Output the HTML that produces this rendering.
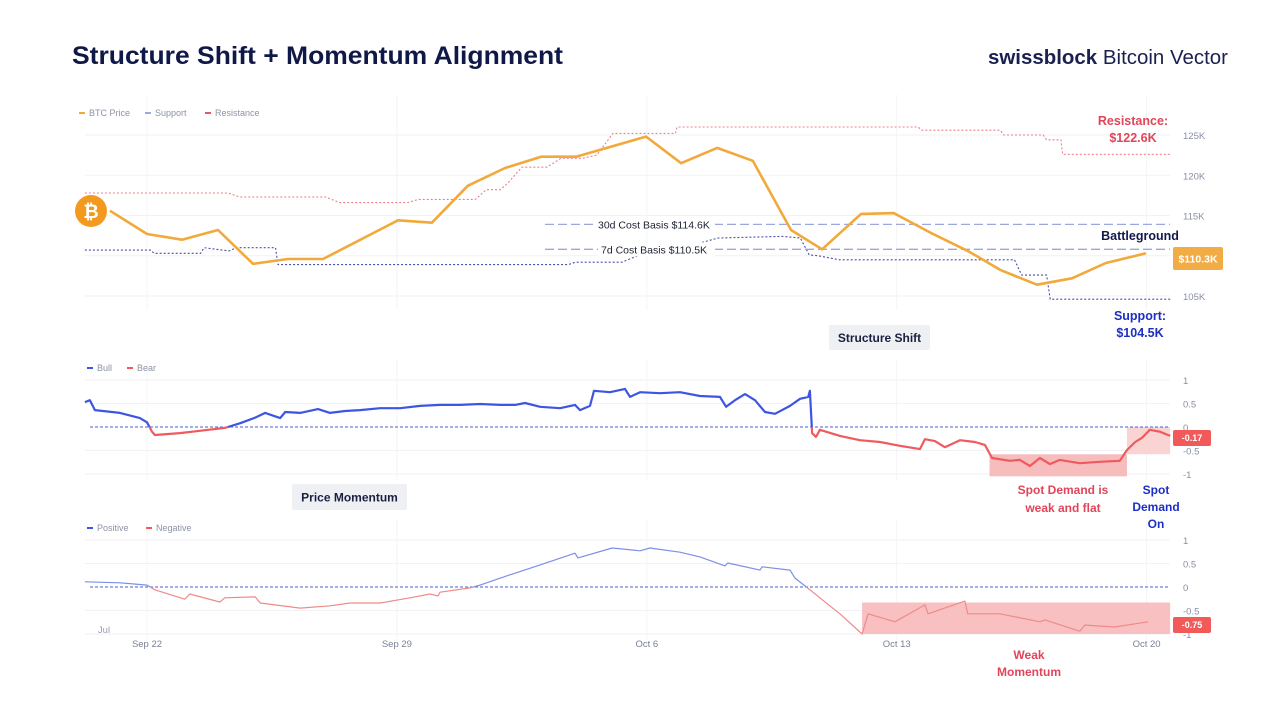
<!DOCTYPE html>
<html><head><meta charset="utf-8">
<style>
body{margin:0;background:#fff;width:1280px;height:720px;overflow:hidden;font-family:"Liberation Sans",sans-serif;}
svg{display:block}
</style></head>
<body>
<svg id="c" width="1280" height="720" viewBox="0 0 1280 720">
<text x="72" y="64" font-size="25" font-weight="bold" fill="#101848" textLength="491" lengthAdjust="spacingAndGlyphs">Structure Shift + Momentum Alignment</text>
<text x="988" y="64" font-size="20" fill="#1a2050" textLength="240" lengthAdjust="spacingAndGlyphs"><tspan font-weight="bold">swissblock</tspan> Bitcoin Vector</text>
<g id="g"></g>
</svg>
<script>
// ---- data ----
const priceDays=[-1.04,0,0.98,1.99,2.97,3.95,4.93,7.03,7.98,8.99,10.03,11.04,12.02,13.98,14.96,15.97,16.97,18.04,18.91,20.0,20.92,21.93,23.03,23.92,24.93,25.91,26.86,27.98];
const priceVals=[115.6,112.7,112.0,113.2,109.0,109.6,109.6,114.4,114.1,118.7,120.9,122.3,122.3,124.8,121.5,123.4,121.8,113.2,110.8,115.2,115.3,112.9,110.5,108.2,106.4,107.2,109.1,110.3];
const resDays=[-1.74,2.27,2.6,5.0,5.4,7.3,7.6,9.2,9.5,9.9,10.1,10.5,11.2,11.6,12.2,12.6,13.05,14.8,14.85,21.6,21.7,23.9,24.0,25.1,25.2,25.6,25.65,28.66];
const resVals=[117.8,117.8,117.3,117.3,116.6,116.6,117.0,117.0,118.2,118.2,119.0,121.0,121.0,122.1,122.1,122.5,125.2,125.2,126.0,126.0,125.6,125.6,125.0,125.0,124.4,124.4,122.6,122.6];
const supDays=[-1.74,0.1,0.2,1.5,1.6,2.3,2.5,3.6,3.67,11.8,12.0,13.3,13.8,14.4,15.5,16.0,17.8,18.3,18.55,18.8,19.4,24.3,24.5,25.2,25.3,28.66];
const supVals=[110.7,110.7,110.3,110.3,111.0,110.6,111.0,111.0,108.9,108.9,109.2,109.2,110.1,110.7,111.6,112.2,112.4,112.2,110.1,110.0,109.5,109.5,107.6,107.6,104.6,104.6];
const costLabels=["30d Cost Basis $114.6K","7d Cost Basis $110.5K"];
const costVals=[113.9,110.8];
const priceTicks=[105,110,115,120,125];
const bbDays=[-1.74,-1.6,-1.46,-0.76,-0.2,0,0.14,0.22,0.92,1.48,2.18,2.61,3.03,3.31,3.73,3.87,4.29,4.79,5.13,5.55,5.97,6.53,7.09,7.65,8.21,8.77,9.33,9.89,10.31,10.59,11.01,11.57,11.99,12.13,12.41,12.52,12.97,13.39,13.53,13.81,14.37,14.93,15.49,16.05,16.22,16.47,16.75,17.03,17.31,17.59,18.01,18.29,18.52,18.57,18.63,18.74,18.85,19.41,19.97,20.53,21.09,21.65,21.79,22.07,22.35,22.77,23.19,23.47,23.67,24.17,24.45,24.73,25.01,25.29,25.57,26.13,26.69,27.25,27.45,27.68,27.87,28.09,28.37,28.66];
const bbVals=[0.53,0.57,0.36,0.3,0.19,0.1,-0.1,-0.17,-0.13,-0.08,-0.02,0.08,0.2,0.3,0.19,0.32,0.3,0.38,0.3,0.34,0.36,0.4,0.4,0.45,0.47,0.47,0.49,0.47,0.47,0.51,0.43,0.4,0.47,0.36,0.45,0.77,0.74,0.81,0.64,0.74,0.72,0.74,0.66,0.64,0.43,0.57,0.7,0.57,0.32,0.28,0.45,0.6,0.64,0.77,-0.13,-0.21,-0.06,-0.19,-0.28,-0.32,-0.4,-0.47,-0.26,-0.3,-0.43,-0.28,-0.32,-0.38,-0.66,-0.72,-0.7,-0.83,-0.66,-0.79,-0.7,-0.77,-0.74,-0.72,-0.49,-0.32,-0.23,-0.06,-0.1,-0.19];
const momDays=[-1.74,-0.76,0,0.22,1.06,1.2,2.04,2.18,3.03,3.17,4.29,5.13,5.69,6.53,7.37,7.93,8.15,8.21,9.05,9.33,10.17,11.01,11.99,12.07,13.03,13.81,14.09,14.93,15.49,16.19,16.27,17.17,17.23,18.01,18.15,18.57,19.41,20.03,20.2,20.95,21.79,21.88,22.91,22.99,23.89,25.01,25.15,26.13,26.27,27.11,28.04];
const momVals=[0.11,0.09,0.04,-0.06,-0.26,-0.15,-0.32,-0.23,-0.21,-0.34,-0.45,-0.4,-0.34,-0.34,-0.23,-0.15,-0.19,-0.11,-0.02,0.04,0.26,0.47,0.72,0.62,0.83,0.77,0.83,0.74,0.64,0.45,0.51,0.36,0.43,0.36,0.19,-0.06,-0.57,-1.0,-0.57,-0.74,-0.38,-0.57,-0.3,-0.57,-0.57,-0.74,-0.7,-0.94,-0.81,-0.85,-0.74];
const oscTicks=[1,0.5,0,-0.5,-1];
const oscTickLabels=["1","0.5","0","-0.5","-1"];
const dateDays=[0,7,14,21,28];
const dateLabels=["Sep 22","Sep 29","Oct 6","Oct 13","Oct 20"];

// ---- scales ----
const X0=85,X1=1170;
const xs=d=>147+d*35.7;
const yp=v=>135+(125-v)*8.05;
const yb=v=>427-v*47;
const ym=v=>587-v*47;
const NS='http://www.w3.org/2000/svg';
const G=document.getElementById('g');
function mk(tag,at,parent){const e=document.createElementNS(NS,tag);for(const k in at)e.setAttribute(k,at[k]);(parent||G).appendChild(e);return e;}
function txt(x,y,s,at){const e=mk('text',Object.assign({x:x,y:y},at));e.textContent=s;return e;}
function pts(ds,vs,fy){return ds.map((d,i)=>xs(d).toFixed(1)+','+fy(vs[i]).toFixed(1)).join(' ');}

// gridlines
priceTicks.forEach(v=>{
  const l=mk('line',{x1:X0,x2:X1,y1:yp(v),y2:yp(v),stroke:'#f1f2f5','stroke-width':1});
  
  
  const t=txt(1183,yp(v)+4,v+'K',{'font-size':9.5,fill:'#8a8fa3'});
  
  
});
oscTicks.forEach((v,i)=>{
  [yb,ym].forEach((f,j)=>{
    if(v!==0){const l=mk('line',{x1:X0,x2:X1,y1:f(v),y2:f(v),stroke:'#f1f2f5','stroke-width':1});
    
    }
    const t=txt(1183,f(v)+4,oscTickLabels[i],{'font-size':9.5,fill:'#8a8fa3'});
    
    
  });
});
dateDays.forEach((d,i)=>{
  [[95,310],[360,480],[520,640]].forEach(r=>{
    const l=mk('line',{x1:xs(d),x2:xs(d),y1:r[0],y2:r[1],stroke:'#f3f4f6','stroke-width':1});
    
    
  });
  const t=txt(xs(d),647,dateLabels[i],{'font-size':9.5,fill:'#7a8096','text-anchor':'middle'});
  
  
});
{const t=txt(104,633,'Jul',{'font-size':9.5,fill:'#9a9fb0','text-anchor':'middle'});

}

// shaded boxes
[[23.6,27.45,-0.58,-1.05,'#f7bcbc'],[27.45,28.66,0,-0.58,'#fad3d3']].forEach(b=>{
  const r=mk('rect',{x:xs(b[0]),y:yb(b[2]),width:xs(b[1])-xs(b[0]),height:yb(b[3])-yb(b[2]),fill:b[4]});
  
  
});
{const r=mk('rect',{x:xs(20.03),y:ym(-0.33),width:xs(28.66)-xs(20.03),height:ym(-1.0)-ym(-0.33),fill:'#f8c0c0'});

}

// resistance/support
{const p=mk('polyline',{points:pts(resDays,resVals,yp),fill:'none',stroke:'#ef7f8a','stroke-width':1.1,'stroke-dasharray':'2,2'});

}
{const p=mk('polyline',{points:pts(supDays,supVals,yp),fill:'none',stroke:'#4a4fa8','stroke-width':1.1,'stroke-dasharray':'2,2'});

}
// cost basis
costVals.forEach((v,i)=>{
  const l=mk('line',{x1:545,x2:X1,y1:yp(v),y2:yp(v),stroke:'#9aa8de','stroke-width':1.3,'stroke-dasharray':'9,4'});
  
  
  const bg=mk('rect',{x:i==0?595:598,y:yp(v)-7,width:i==0?120:117,height:14,fill:'#fff'});
  
  
  const t=txt(i==0?598:601,yp(v)+4,costLabels[i],{'font-size':10.5,fill:'#202436'});
  
  
});
// price
{const p=mk('polyline',{points:pts(priceDays,priceVals,yp),fill:'none',stroke:'#f2a93b','stroke-width':2.6,'stroke-linejoin':'round'});

}

// zero lines
[yb(0),ym(0)].forEach(y=>{
  const l=mk('line',{x1:90,x2:X1,y1:y,y2:y,stroke:'#4a5fd0','stroke-width':1,'stroke-dasharray':'3,2'});
  
  
});

// signed series
function signed(ds,vs,fy,pos,neg,w,name){
  let segs=[],cur=[[ds[0],vs[0]]],s=vs[0]>=0;
  for(let i=1;i<ds.length;i++){
    const ns=vs[i]>=0;
    if(ns!==s){const t=vs[i-1]/(vs[i-1]-vs[i]);const zd=ds[i-1]+t*(ds[i]-ds[i-1]);cur.push([zd,0]);segs.push([s,cur]);cur=[[zd,0]];s=ns;}
    cur.push([ds[i],vs[i]]);
  }
  segs.push([s,cur]);
  segs.forEach(sg=>{
    const p=mk('polyline',{points:sg[1].map(q=>xs(q[0]).toFixed(1)+','+fy(q[1]).toFixed(1)).join(' '),fill:'none',stroke:sg[0]?pos:neg,'stroke-width':w,'stroke-linejoin':'round'});
    
    
  });
}
signed(bbDays,bbVals,yb,'#3d55e0','#ee5a5e',2.2,'bull-bear-line');
signed(momDays,momVals,ym,'#7d8fe8','#ef8a8a',1.2,'momentum-line');

// legends
function legend(x,y,items,name){
  let cx=x;
  items.forEach(it=>{
    const l=mk('line',{x1:cx,x2:cx+6,y1:y-3,y2:y-3,stroke:it[1],'stroke-width':2});
    
    
    const t=txt(cx+10,y,it[0],{'font-size':9,fill:'#8d92a6'});
    
    
    cx+=it[2];
  });
}
legend(79,116,[['BTC Price','#f2a93b',66],['Support','#9aa8de',60],['Resistance','#e05a6a',70]],'price-legend');
legend(87,371,[['Bull','#3d55e0',40],['Bear','#ee5a5e',40]],'bull-bear-legend');
legend(87,531,[['Positive','#3d55e0',59],['Negative','#ee5a5e',60]],'momentum-legend');

// annotations
function bt(x,y,s,fill,size,anchor,name){const t=txt(x,y,s,{'font-size':size,'font-weight':'bold',fill:fill,'text-anchor':anchor||'middle'});

return t;}
bt(1133,125,'Resistance:','#e0455a',12.5,'middle','resistance-annotation');
bt(1133,142,'$122.6K','#e0455a',12.5,'middle','resistance-value');
bt(1140,240,'Battleground','#121a4a',12.5,'middle','battleground-annotation');
bt(1140,320,'Support:','#1c2fc4',12.5,'middle','support-annotation');
bt(1140,337,'$104.5K','#1c2fc4',12.5,'middle','support-value');
bt(1063,494,'Spot Demand is','#e0455a',12,'middle','spot-weak-annotation');
bt(1063,512,'weak and flat','#e0455a',12,'middle','spot-weak-annotation-2');
bt(1156,494,'Spot','#1c2fc4',12,'middle','spot-on-annotation');
bt(1156,511,'Demand','#1c2fc4',12,'middle','spot-on-annotation-2');
bt(1156,528,'On','#1c2fc4',12,'middle','spot-on-annotation-3');
bt(1029,659,'Weak','#e0455a',12,'middle','weak-momentum-annotation');
bt(1029,676,'Momentum','#e0455a',12,'middle','weak-momentum-annotation-2');

function badge(x,y,w,h,fill,s,tfill,size,name){
  const r=mk('rect',{x:x,y:y,width:w,height:h,fill:fill,rx:2});
  
  
  const t=txt(x+w/2,y+h/2+size*0.36,s,{'font-size':size,'font-weight':'bold',fill:tfill,'text-anchor':'middle'});
  
  
}
badge(1173,247,50,23,'#f2ac45','$110.3K','#fff',10.5,'current-price-badge');
badge(1173,430,38,16,'#f25a5a','-0.17','#fff',9,'bull-bear-value-badge');
badge(1173,617,38,16,'#f25a5a','-0.75','#fff',9,'momentum-value-badge');
badge(829,325,101,25,'#eef0f4','Structure Shift','#1a2040',12,'structure-shift-label');
badge(292,484,115,26,'#eef0f4','Price Momentum','#1a2040',12,'price-momentum-label');

// bitcoin icon
{const c=mk('circle',{cx:91,cy:211,r:16,fill:'#f39a1e'});


const t=txt(91,218,'₿',{'font-size':19,'font-weight':'bold',fill:'#fff','text-anchor':'middle','font-family':'DejaVu Sans, sans-serif'});

}
</script>
</body></html>
